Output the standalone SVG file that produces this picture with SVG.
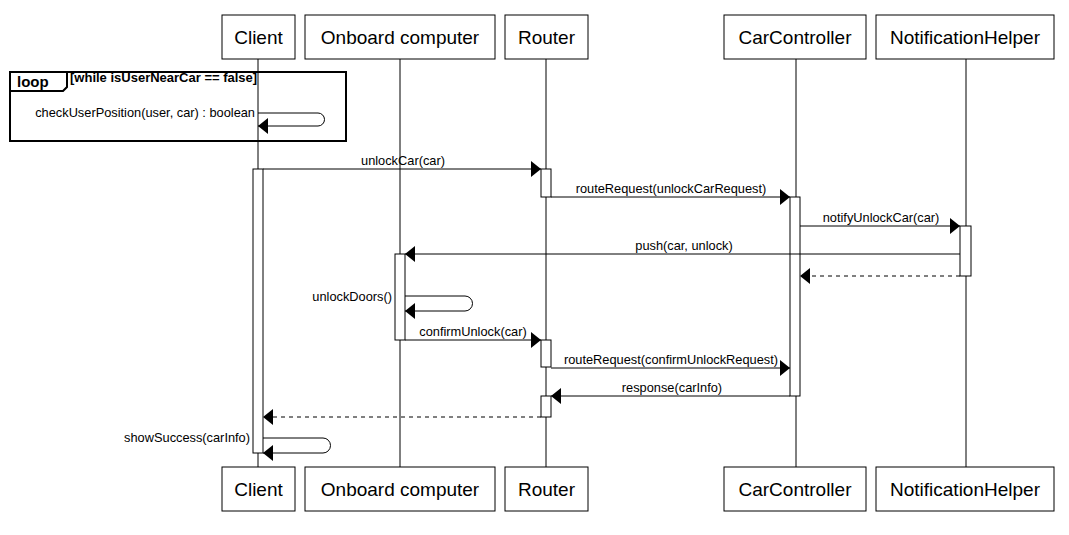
<svg xmlns="http://www.w3.org/2000/svg" width="1069" height="535" viewBox="0 0 1069 535">
<style>
.box{fill:#fff;stroke:#000;stroke-width:1}
.pt{font-family:"Liberation Sans",Arial,sans-serif;font-size:19px;fill:#000;text-anchor:middle}
.life{stroke:#000;stroke-width:1;fill:none}
.act{fill:#fff;stroke:#000;stroke-width:1}
.msg{stroke:#000;stroke-width:1;fill:none;marker-end:url(#ah)}
.ret{stroke:#000;stroke-width:1;fill:none;stroke-dasharray:4,4;marker-end:url(#ah)}
.ml{font-family:"Liberation Sans",Arial,sans-serif;font-size:12.8px;fill:#000;text-anchor:middle}
.mr{font-family:"Liberation Sans",Arial,sans-serif;font-size:12.8px;fill:#000;text-anchor:end}
.frame{fill:none;stroke:#000;stroke-width:2}
</style>
<defs>
<marker id="ah" markerWidth="10" markerHeight="16" refX="10" refY="8" orient="auto" markerUnits="userSpaceOnUse">
<path d="M0,0 L10,8 L0,16 z" fill="#000"/>
</marker>
</defs>
<rect width="1069" height="535" fill="#fff"/>
<g id="lifelines">
<line class="life" x1="258" y1="59" x2="258" y2="467"/>
<line class="life" x1="400" y1="59" x2="400" y2="467"/>
<line class="life" x1="546" y1="59" x2="546" y2="467"/>
<line class="life" x1="796" y1="59" x2="796" y2="467"/>
<line class="life" x1="966" y1="59" x2="966" y2="467"/>
</g>
<g id="loop-frame">
<rect class="frame" x="10" y="72" width="336" height="69"/>
<path class="frame" d="M10,91 H63 L67,87 V72"/>
<text x="17" y="87" font-family="Liberation Sans,Arial,sans-serif" font-size="15" font-weight="bold">loop</text>
<text x="70" y="82" font-family="Liberation Sans,Arial,sans-serif" font-size="13" font-weight="bold">[while isUserNearCar == false]</text>
</g>
<g id="activations">
<rect class="act" x="253" y="169" width="10" height="284"/>
<rect class="act" x="541" y="169" width="10" height="28"/>
<rect class="act" x="790" y="197" width="10" height="199"/>
<rect class="act" x="960" y="226" width="11" height="50"/>
<rect class="act" x="395" y="254" width="10" height="86"/>
<rect class="act" x="541" y="340" width="10" height="27"/>
<rect class="act" x="541" y="396" width="10" height="21"/>
</g>
<g id="connectors">
<path class="msg" d="M258,113 H318 A6.5,6.5 0 0 1 318,126 H258"/>
<text class="mr" x="255" y="117">checkUserPosition(user, car) : boolean</text>
<line class="msg" x1="263" y1="169" x2="541" y2="169"/>
<text class="ml" x="403" y="165">unlockCar(car)</text>
<line class="msg" x1="551" y1="197" x2="790" y2="197"/>
<text class="ml" x="671" y="193">routeRequest(unlockCarRequest)</text>
<line class="msg" x1="800" y1="226" x2="960" y2="226"/>
<text class="ml" x="881" y="222">notifyUnlockCar(car)</text>
<line class="msg" x1="960" y1="254" x2="405" y2="254"/>
<text class="ml" x="684" y="250">push(car, unlock)</text>
<line class="ret" x1="960" y1="276" x2="800" y2="276"/>
<path class="msg" d="M405,296 H465 A7.5,7.5 0 0 1 465,311 H405"/>
<text class="mr" x="392" y="301">unlockDoors()</text>
<line class="msg" x1="405" y1="340" x2="541" y2="340"/>
<text class="ml" x="473" y="336">confirmUnlock(car)</text>
<line class="msg" x1="551" y1="368" x2="790" y2="368"/>
<text class="ml" x="671" y="364">routeRequest(confirmUnlockRequest)</text>
<line class="msg" x1="790" y1="396" x2="551" y2="396"/>
<text class="ml" x="672" y="392">response(carInfo)</text>
<line class="ret" x1="541" y1="417" x2="263" y2="417"/>
<path class="msg" d="M263,438 H323 A7.5,7.5 0 0 1 323,453 H263"/>
<text class="mr" x="250" y="442">showSuccess(carInfo)</text>
</g>
<g id="Client">
<rect class="box" x="222" y="15" width="73" height="44"/>
<text class="pt" x="258.5" y="44">Client</text>
<rect class="box" x="222" y="467" width="73" height="44"/>
<text class="pt" x="258.5" y="496">Client</text>
</g>
<g id="OnboardComputer">
<rect class="box" x="305" y="15" width="190" height="44"/>
<text class="pt" x="400" y="44">Onboard computer</text>
<rect class="box" x="305" y="467" width="190" height="44"/>
<text class="pt" x="400" y="496">Onboard computer</text>
</g>
<g id="Router">
<rect class="box" x="505" y="15" width="83" height="44"/>
<text class="pt" x="546.5" y="44">Router</text>
<rect class="box" x="505" y="467" width="83" height="44"/>
<text class="pt" x="546.5" y="496">Router</text>
</g>
<g id="CarController">
<rect class="box" x="724" y="15" width="142" height="44"/>
<text class="pt" x="795" y="44">CarController</text>
<rect class="box" x="724" y="467" width="142" height="44"/>
<text class="pt" x="795" y="496">CarController</text>
</g>
<g id="NotificationHelper">
<rect class="box" x="876" y="15" width="178" height="44"/>
<text class="pt" x="965" y="44">NotificationHelper</text>
<rect class="box" x="876" y="467" width="178" height="44"/>
<text class="pt" x="965" y="496">NotificationHelper</text>
</g>
</svg>
